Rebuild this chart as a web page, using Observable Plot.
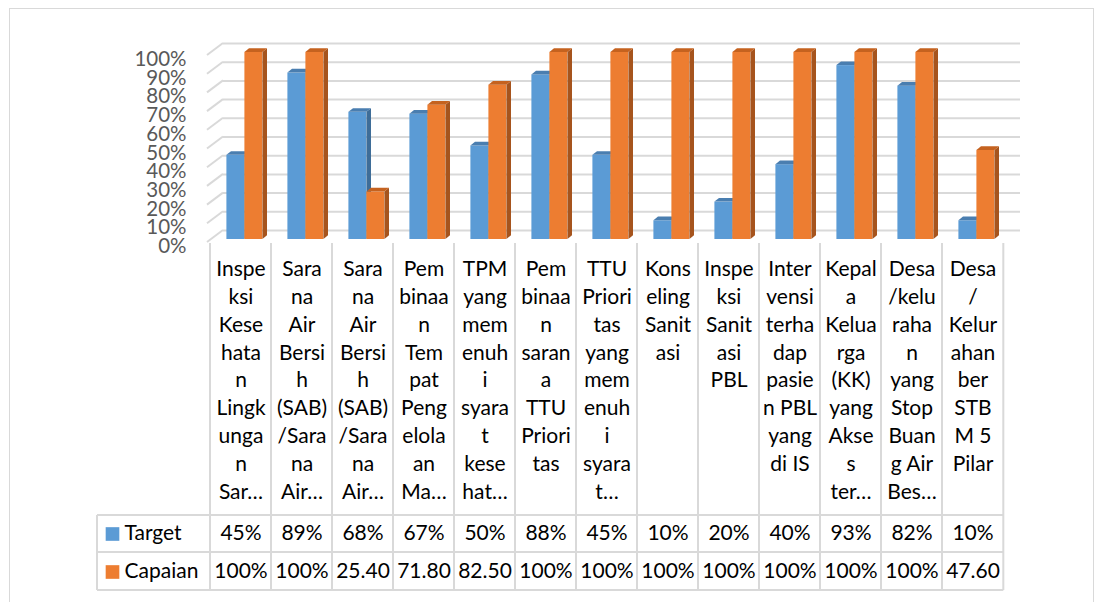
<!DOCTYPE html>
<html>
<head>
<meta charset="utf-8">
<script src="https://cdn.jsdelivr.net/npm/d3@7"></script>
<script src="https://cdn.jsdelivr.net/npm/@observablehq/plot@0.6"></script>
<style>
  html, body { margin: 0; padding: 0; background: #fff; }
  #wrap { position: relative; width: 1095px; height: 602px; overflow: hidden; }
  #border { position: absolute; left: 9px; top: 8px; width: 1085px; height: 640px; border: 1.5px solid #d9d9d9; box-sizing: border-box; }
  #chart { position: absolute; left: 0; top: 0; }
</style>
</head>
<body>
<div id="wrap"><div id="border"></div><div id="chart"></div></div>
<script>
// ---- data ----
const categoryLines = [
  ["Inspe","ksi","Kese","hata","n","Lingk","unga","n","Sar…"],
  ["Sara","na","Air","Bersi","h","(SAB)","/Sara","na","Air…"],
  ["Sara","na","Air","Bersi","h","(SAB)","/Sara","na","Air…"],
  ["Pem","binaa","n","Tem","pat","Peng","elola","an","Ma…"],
  ["TPM","yang","mem","enuh","i","syara","t","kese","hat…"],
  ["Pem","binaa","n","saran","a","TTU","Priori","tas"],
  ["TTU","Priori","tas","yang","mem","enuh","i","syara","t…"],
  ["Kons","eling","Sanit","asi"],
  ["Inspe","ksi","Sanit","asi","PBL"],
  ["Inter","vensi","terha","dap","pasie","n PBL","yang","di IS"],
  ["Kepal","a","Kelua","rga","(KK)","yang","Akse","s","ter…"],
  ["Desa","/kelu","raha","n","yang","Stop","Buan","g Air","Bes…"],
  ["Desa","/","Kelur","ahan","ber","STB","M 5","Pilar"]
];
const categories = categoryLines.map(l => l.join("\n"));
const target  = [0.45, 0.89, 0.68, 0.67, 0.50, 0.88, 0.45, 0.10, 0.20, 0.40, 0.93, 0.82, 0.10];
const capaian = [1.00, 1.00, 0.254, 0.718, 0.825, 1.00, 1.00, 1.00, 1.00, 1.00, 1.00, 1.00, 0.476];
const targetText  = ["45%","89%","68%","67%","50%","88%","45%","10%","20%","40%","93%","82%","10%"];
const capaianText = ["100%","100%","25.40","71.80","82.50","100%","100%","100%","100%","100%","100%","100%","47.60"];
const seriesNames = ["Target", "Capaian"];
const yTicks = [0, 0.1, 0.2, 0.3, 0.4, 0.5, 0.6, 0.7, 0.8, 0.9, 1.0];

// ---- styles / layout ----
const W = 1095, H = 602;
const margin = {left: 208, right: 90, top: 55, bottom: 360};
const n = categories.length;
const idx = d3.range(n);
const bw = (W - margin.left - margin.right) / n;
const barW = 18;
const plane = {dx: 3.75, dy: -3};
const face = {dx: 4.6, dy: -3.7};
const wall = {dx: 15, dy: -12};
const gridColor = "#d9d9d9";
const font = "Lato, 'Open Sans', sans-serif";
const colors = {
  Target:  {front: "#5b9bd5", side: "#3e6d98", top: "#4a7eb0"},
  Capaian: {front: "#ed7d31", side: "#a6541d", top: "#c5621f"}
};
const table = {left: 97, sepTop: 243, rowLines: [515, 552, 590], rowDy: [297, 335], swatchDy: [291.5, 329.5]};
const labelFont = 21;

const rows = idx.map(i => ({i, target: target[i], capaian: capaian[i]}));

function insets(left) {
  return left ? {insetLeft: bw / 2 - barW, insetRight: bw / 2}
              : {insetLeft: bw / 2, insetRight: bw / 2 - barW};
}
function barFront(key, color, left) {
  return Plot.barY(rows, {x: "i", y1: 0, y2: key, fill: color, ...insets(left), dx: plane.dx, dy: plane.dy});
}
function barFaces(values, c, left) {
  return (index, scales) => {
    const g = d3.create("svg:g");
    for (let i = 0; i < values.length; i++) {
      const x0 = scales.x(i) + insets(left).insetLeft + plane.dx;
      const x1 = x0 + barW;
      const yt = scales.y(values[i]) + plane.dy;
      const yb = scales.y(0) + plane.dy;
      g.append("path")
        .attr("d", `M${x1},${yt}L${x1 + face.dx},${yt + face.dy}L${x1 + face.dx},${yb + face.dy}L${x1},${yb}Z`)
        .attr("fill", c.side);
      g.append("path")
        .attr("d", `M${x0},${yt}L${x0 + face.dx},${yt + face.dy}L${x1 + face.dx},${yt + face.dy}L${x1},${yt}Z`)
        .attr("fill", c.top);
    }
    return g.node();
  };
}
const wallEdges = (index, scales) => {
  const g = d3.create("svg:g").attr("stroke", gridColor).attr("stroke-width", 2);
  for (const t of yTicks) {
    const y = scales.y(t);
    g.append("line").attr("x1", margin.left - 1).attr("y1", y)
      .attr("x2", margin.left + wall.dx).attr("y2", y + wall.dy);
  }
  return g.node();
};
const tableGrid = (index, scales) => {
  const g = d3.create("svg:g").attr("stroke", gridColor).attr("stroke-width", 2).attr("fill", "none");
  const xr = scales.x(n - 1) + bw;
  const yb = table.rowLines[table.rowLines.length - 1];
  for (const y of table.rowLines) g.append("line").attr("x1", table.left).attr("x2", xr).attr("y1", y).attr("y2", y);
  g.append("line").attr("x1", table.left).attr("x2", table.left).attr("y1", table.rowLines[0]).attr("y2", yb);
  for (let i = 0; i <= n; i++) {
    const x = i < n ? scales.x(i) : xr;
    g.append("line").attr("x1", x).attr("x2", x).attr("y1", table.sepTop).attr("y2", yb);
  }
  return g.node();
};

const marks = [
  Plot.ruleY(yTicks, {dx: wall.dx, dy: wall.dy, stroke: gridColor, strokeWidth: 2}),
  wallEdges,
  tableGrid,
  Plot.text(yTicks, {y: d => d, text: d3.format(".0%"), frameAnchor: "left", textAnchor: "end",
    dx: -22, dy: 4, fontSize: 20.5, fill: "#595959"}),
  barFront("target", colors.Target.front, true),
  barFaces(target, colors.Target, true),
  barFront("capaian", colors.Capaian.front, false),
  barFaces(capaian, colors.Capaian, false),
  Plot.text(idx, {x: d => d, text: i => categories[i], frameAnchor: "bottom", lineAnchor: "top",
    dy: 14, fontSize: labelFont, lineHeight: 27.8 / labelFont, fill: "#000"}),
  Plot.text(idx, {x: d => d, text: i => targetText[i], frameAnchor: "bottom", dy: table.rowDy[0], fontSize: labelFont, fill: "#000"}),
  Plot.text(idx, {x: d => d, text: i => capaianText[i], frameAnchor: "bottom", dy: table.rowDy[1], fontSize: labelFont, fill: "#000"})
];
seriesNames.forEach((s, k) => {
  marks.push(Plot.dot([s], {frameAnchor: "bottom-left", dx: -96, dy: table.swatchDy[k], symbol: "square",
    r: 7.7, fill: colors[s].front, stroke: null}));
  marks.push(Plot.text([s], {text: d => d, frameAnchor: "bottom-left", textAnchor: "start", dx: -84,
    dy: table.rowDy[k], fontSize: labelFont, fill: "#000"}));
});

const chart = Plot.plot({
  width: W, height: H,
  marginLeft: margin.left, marginRight: margin.right, marginTop: margin.top, marginBottom: margin.bottom,
  style: {fontFamily: font, background: "transparent", overflow: "visible"},
  x: {type: "band", domain: idx, padding: 0, axis: null},
  y: {domain: [0, 1], axis: null},
  marks
});
document.getElementById("chart").append(chart);
</script>
</body>
</html>
